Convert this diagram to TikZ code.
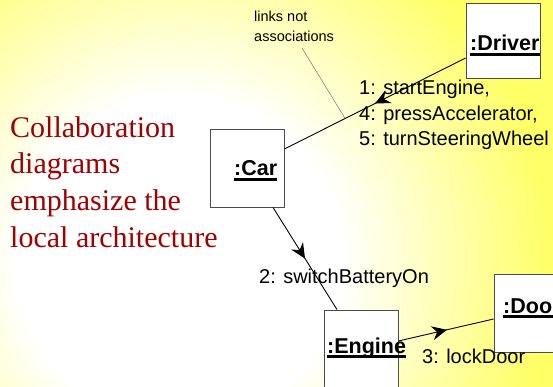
\documentclass[tikz,border=0pt]{standalone}
\usepackage{fontspec}
\setmainfont{Liberation Serif}
\setsansfont{Liberation Sans}
\usetikzlibrary{arrows.meta,decorations.markings,calc}
\definecolor{bgyel}{RGB}{255,255,102}
\definecolor{darkred}{RGB}{160,0,0}
\tikzset{
  objbox/.style={draw=black!70, line width=0.9pt, fill=white, inner sep=0pt},
  objlabel/.style={font=\sffamily\bfseries\fontsize{21.5}{24}\selectfont, inner sep=0pt, anchor=base west},
  ul/.style={line width=2.4pt, black},
  msg/.style={font=\sffamily\fontsize{20}{24}\selectfont, inner sep=0pt, anchor=base west},
  notetext/.style={font=\sffamily\fontsize{14.5}{18}\selectfont, inner sep=0pt, anchor=base west},
  serif/.style={font=\rmfamily\fontsize{30}{36}\selectfont, text=darkred, inner sep=0pt, anchor=base west},
  link/.style={line width=0.9pt, black},
  midarrow/.style={postaction={decorate, decoration={markings,
      mark=at position #1 with {\arrow{Stealth[length=15pt,width=14pt,inset=5pt]}}}}},
  noteline/.style={line width=0.5pt, black!55},
}
\begin{document}
\begin{tikzpicture}[x=1pt,y=-1pt]
\useasboundingbox (0,0) rectangle (553,387);
\clip (0,0) rectangle (553,387);
% background: yellow with a soft white centre
\fill[bgyel] (0,0) rectangle (553,387);
\foreach \i in {0,...,40}{
  \pgfmathsetmacro{\rr}{375-\i*5.25}
  \pgfmathsetmacro{\pc}{100-\i*2.5}
  \fill[bgyel!\pc!white] (180,260) circle[radius=\rr pt];
}

% left serif text
\node[serif] (t1) at (10,138) {Collaboration};
\node[serif] (t2) at (10,174) {diagrams};
\node[serif] (t3) at (10,210.5) {emphasize the};
\node[serif] (t4) at (10,247) {local architecture};

% object boxes
\node[objbox, minimum width=74pt, minimum height=75pt] (driver) at (503,40.5) {};
\node[objbox, minimum width=74pt, minimum height=78pt] (car) at (247,168) {};
\node[objbox, minimum width=74pt, minimum height=90pt] (engine) at (361,355) {};
\node[objbox, minimum width=74pt, minimum height=78pt] (door) at (531,313) {};

% object labels
\node[objlabel] (driverl) at (470,51) {:Driver};
\draw[ul] ($(driverl.base west)+(0,3.5)$) -- ($(driverl.base east)+(0,3.5)$);
\node[objlabel] (carl) at (234,176) {:Car};
\draw[ul] ($(carl.base west)+(0,3.5)$) -- ($(carl.base east)+(0,3.5)$);
\node[objlabel] (enginel) at (327,353) {:Engine};
\draw[ul] ($(enginel.base west)+(0,3.5)$) -- ($(enginel.base east)+(0,3.5)$);
\node[objlabel] (doorl) at (503,313) {:Door};
\draw[ul] ($(doorl.base west)+(0,3.5)$) -- ($(doorl.base east)+(0,3.5)$);

% links
\coordinate (d1) at ($(driver.west)+(0,17.5)$);
\coordinate (c1) at ($(car.east)+(0,-19)$);
\draw[link, midarrow=0.5] (d1) -- (c1) coordinate[pos=0.665] (linkpt);
\coordinate (c2) at ($(car.south)+(26,0)$);
\coordinate (e1) at ($(engine.north)+(-24,0)$);
\draw[link, midarrow=0.5] (c2) -- (e1);
\coordinate (e2) at ($(engine.east)+(0,-14)$);
\coordinate (o1) at ($(door.west)+(0,6)$);
\draw[link, midarrow=0.51] (e2) -- (o1);

% note
\node[notetext] (note1) at (254,22) {links not};
\node[notetext] (note2) at (254,42) {associations};
\coordinate (notestart) at (302,48);
\draw[noteline] (notestart) -- (linkpt);

% messages
\node[msg] (m1) at (359,95) {1: startEngine,};
\node[msg] (m4) at (359,120.5) {4: pressAccelerator,};
\node[msg] (m5) at (359,146) {5: turnSteeringWheel};
\node[msg] (m2) at (259,283) {2: switchBatteryOn};
\node[msg] (m3) at (422,363) {3: lockDoor};
\end{tikzpicture}
\end{document}
